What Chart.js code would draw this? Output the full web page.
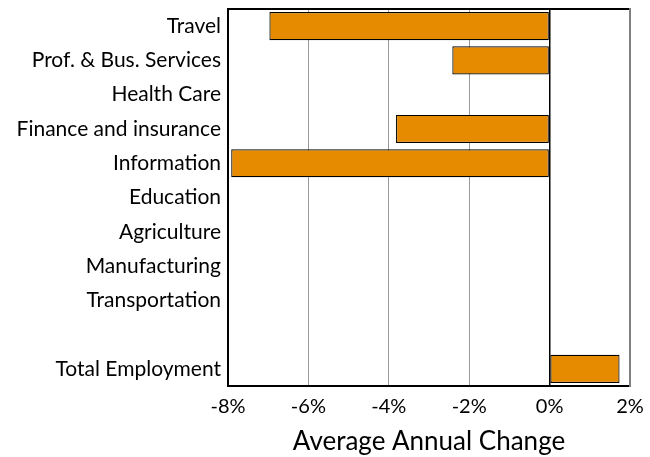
<!DOCTYPE html>
<html>
<head>
<meta charset="utf-8">
<script src="https://cdn.jsdelivr.net/npm/chart.js@4"></script>
<style>
  html, body { margin: 0; padding: 0; background: #fff; }
  #wrap { width: 650px; height: 457px; }
</style>
</head>
<body>
<div id="wrap"><canvas id="grafico"></canvas></div>
<script>
const categories = ["Travel", "Prof. & Bus. Services", "Health Care", "Finance and insurance",
  "Information", "Education", "Agriculture", "Manufacturing", "Transportation", "", "Total Employment"];
const changes = [-6.97, -2.42, 0, -3.82, -7.92, 0, 0, 0, 0, null, 1.74];
const xTicks = [-8, -6, -4, -2, 0, 2];

const FONT = "Lato, 'Open Sans', sans-serif";

// marco del área de gráfico: arriba/izq/abajo negro, derecha gris
const framePlugin = {
  id: "frame",
  afterDatasetsDraw(chart) {
    const { ctx, chartArea: a } = chart;
    ctx.save();
    ctx.lineWidth = 2;
    ctx.strokeStyle = "#000";
    ctx.beginPath();
    ctx.moveTo(a.right, a.top);
    ctx.lineTo(a.left, a.top);
    ctx.lineTo(a.left, a.bottom);
    ctx.lineTo(a.right, a.bottom);
    ctx.stroke();
    ctx.strokeStyle = "#808080";
    ctx.beginPath();
    ctx.moveTo(a.right, a.top - 1);
    ctx.lineTo(a.right, a.bottom + 1);
    ctx.stroke();
    ctx.restore();
  }
};

new Chart(document.getElementById("grafico").getContext("2d"), {
  type: "bar",
  data: {
    labels: categories,
    datasets: [{
      data: changes,
      backgroundColor: "#E68A00",
      borderColor: "#000",
      borderWidth: 1.2,
      borderSkipped: false,
      categoryPercentage: 1,
      barPercentage: 0.82
    }]
  },
  options: {
    indexAxis: "y",
    responsive: true,
    maintainAspectRatio: false,
    animation: false,
    layout: { padding: { top: 9, right: 20, bottom: 0, left: 0 } },
    plugins: { legend: { display: false }, tooltip: { enabled: false } },
    scales: {
      x: {
        min: -8,
        max: 2,
        afterBuildTicks: (s) => { s.ticks = xTicks.map((v) => ({ value: v })); },
        afterFit: (s) => { s.height = 71; s.paddingLeft = 0; s.paddingRight = 0; },
        ticks: {
          color: "#000",
          font: { family: FONT, size: 20 },
          padding: 9,
          callback: (v) => v + "%"
        },
        grid: {
          drawTicks: false,
          color: (c) => (c.tick && c.tick.value === 0 ? "#000" : "#999"),
          lineWidth: (c) => (c.tick && c.tick.value === 0 ? 1.5 : 1)
        },
        border: { display: false },
        title: {
          display: true,
          text: "Average Annual Change",
          color: "#000",
          font: { family: FONT, size: 26 },
          padding: { top: 0, bottom: 0 }
        }
      },
      y: {
        afterFit: (s) => { s.width = 228; s.paddingTop = 0; s.paddingBottom = 0; },
        ticks: {
          color: "#000",
          font: { family: FONT, size: 21 },
          padding: 7,
          autoSkip: false
        },
        grid: { display: false, drawTicks: false },
        border: { display: false }
      }
    }
  },
  plugins: [framePlugin]
});
</script>
</body>
</html>
